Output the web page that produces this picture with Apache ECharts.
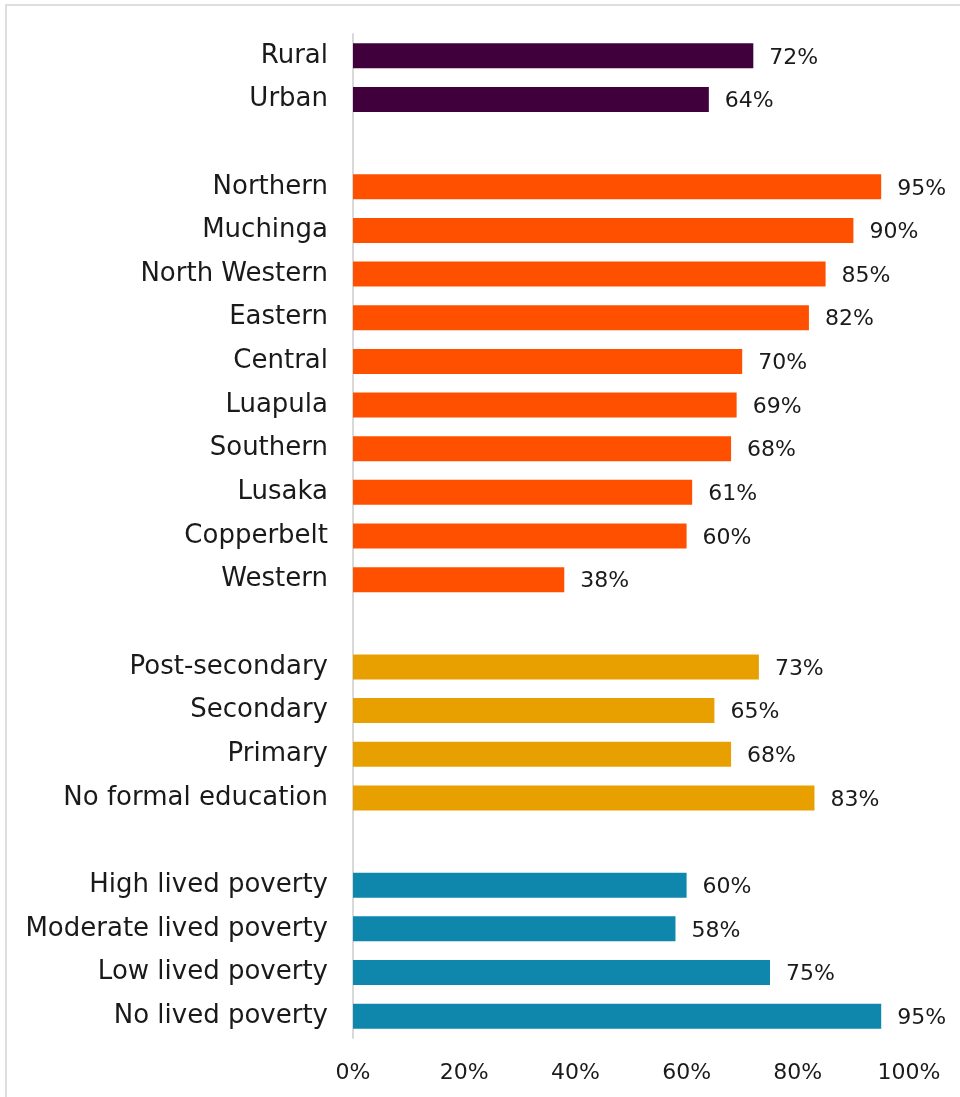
<!DOCTYPE html>
<html>
<head>
<meta charset="utf-8">
<script src="https://cdn.jsdelivr.net/npm/echarts@6/dist/echarts.min.js"></script>
<style>
  html, body { margin: 0; padding: 0; background: #ffffff; }
  #frame { position: absolute; left: 5px; top: 4px; width: 960px; height: 1100px;
           border-left: 2px solid #dedede; border-top: 2px solid #dedede; }
  #chart { position: absolute; left: 0; top: 0; width: 960px; height: 1097px; }
</style>
</head>
<body>
<div id="frame"></div>
<div id="chart"></div>
<script>
// Data
const residenceLabels = ['Rural', 'Urban'];
const residenceValues = [72, 64];
const regionLabels = ['Northern', 'Muchinga', 'North Western', 'Eastern', 'Central', 'Luapula', 'Southern', 'Lusaka', 'Copperbelt', 'Western'];
const regionValues = [95, 90, 85, 82, 70, 69, 68, 61, 60, 38];
const educationLabels = ['Post-secondary', 'Secondary', 'Primary', 'No formal education'];
const educationValues = [73, 65, 68, 83];
const povertyLabels = ['High lived poverty', 'Moderate lived poverty', 'Low lived poverty', 'No lived poverty'];
const povertyValues = [60, 58, 75, 95];
const xTicks = [0, 20, 40, 60, 80, 100];

const groups = [
  { labels: residenceLabels, values: residenceValues, color: '#40003c' },
  { labels: regionLabels, values: regionValues, color: '#ff5000' },
  { labels: educationLabels, values: educationValues, color: '#e8a000' },
  { labels: povertyLabels, values: povertyValues, color: '#0f87ad' }
];

const categories = [];
const data = [];
groups.forEach((g, gi) => {
  if (gi > 0) {
    categories.push(' '.repeat(gi));
    data.push({ value: null });
  }
  g.labels.forEach((lab, i) => {
    categories.push(lab);
    data.push({ value: g.values[i], itemStyle: { color: g.color } });
  });
});

const FONT = 'DejaVu Sans';
const chart = echarts.init(document.getElementById('chart'), null, { renderer: 'canvas' });
chart.setOption({
  animation: false,
  backgroundColor: 'transparent',
  grid: { left: 353, right: 51, top: 34, bottom: 59, containLabel: false },
  xAxis: {
    type: 'value',
    min: xTicks[0],
    max: xTicks[xTicks.length - 1],
    interval: 20,
    axisLine: { show: false },
    axisTick: { show: false },
    splitLine: { show: false },
    axisLabel: {
      formatter: '{value}%',
      color: '#1a1a1a',
      fontFamily: FONT,
      fontSize: 22,
      margin: 24
    }
  },
  yAxis: {
    type: 'category',
    data: categories,
    inverse: true,
    axisLine: { show: true, lineStyle: { color: '#d9d9d9', width: 2 } },
    axisTick: { show: false },
    splitLine: { show: false },
    axisLabel: {
      color: '#1a1a1a',
      fontFamily: FONT,
      fontSize: 26,
      margin: 25,
      interval: 0
    }
  },
  series: [{
    type: 'bar',
    data: data,
    barWidth: 25,
    label: {
      show: true,
      position: 'right',
      distance: 16,
      offset: [0, 2],
      formatter: p => (p.value == null ? '' : p.value + '%'),
      color: '#1a1a1a',
      fontFamily: FONT,
      fontSize: 22
    }
  }]
});
</script>
</body>
</html>
